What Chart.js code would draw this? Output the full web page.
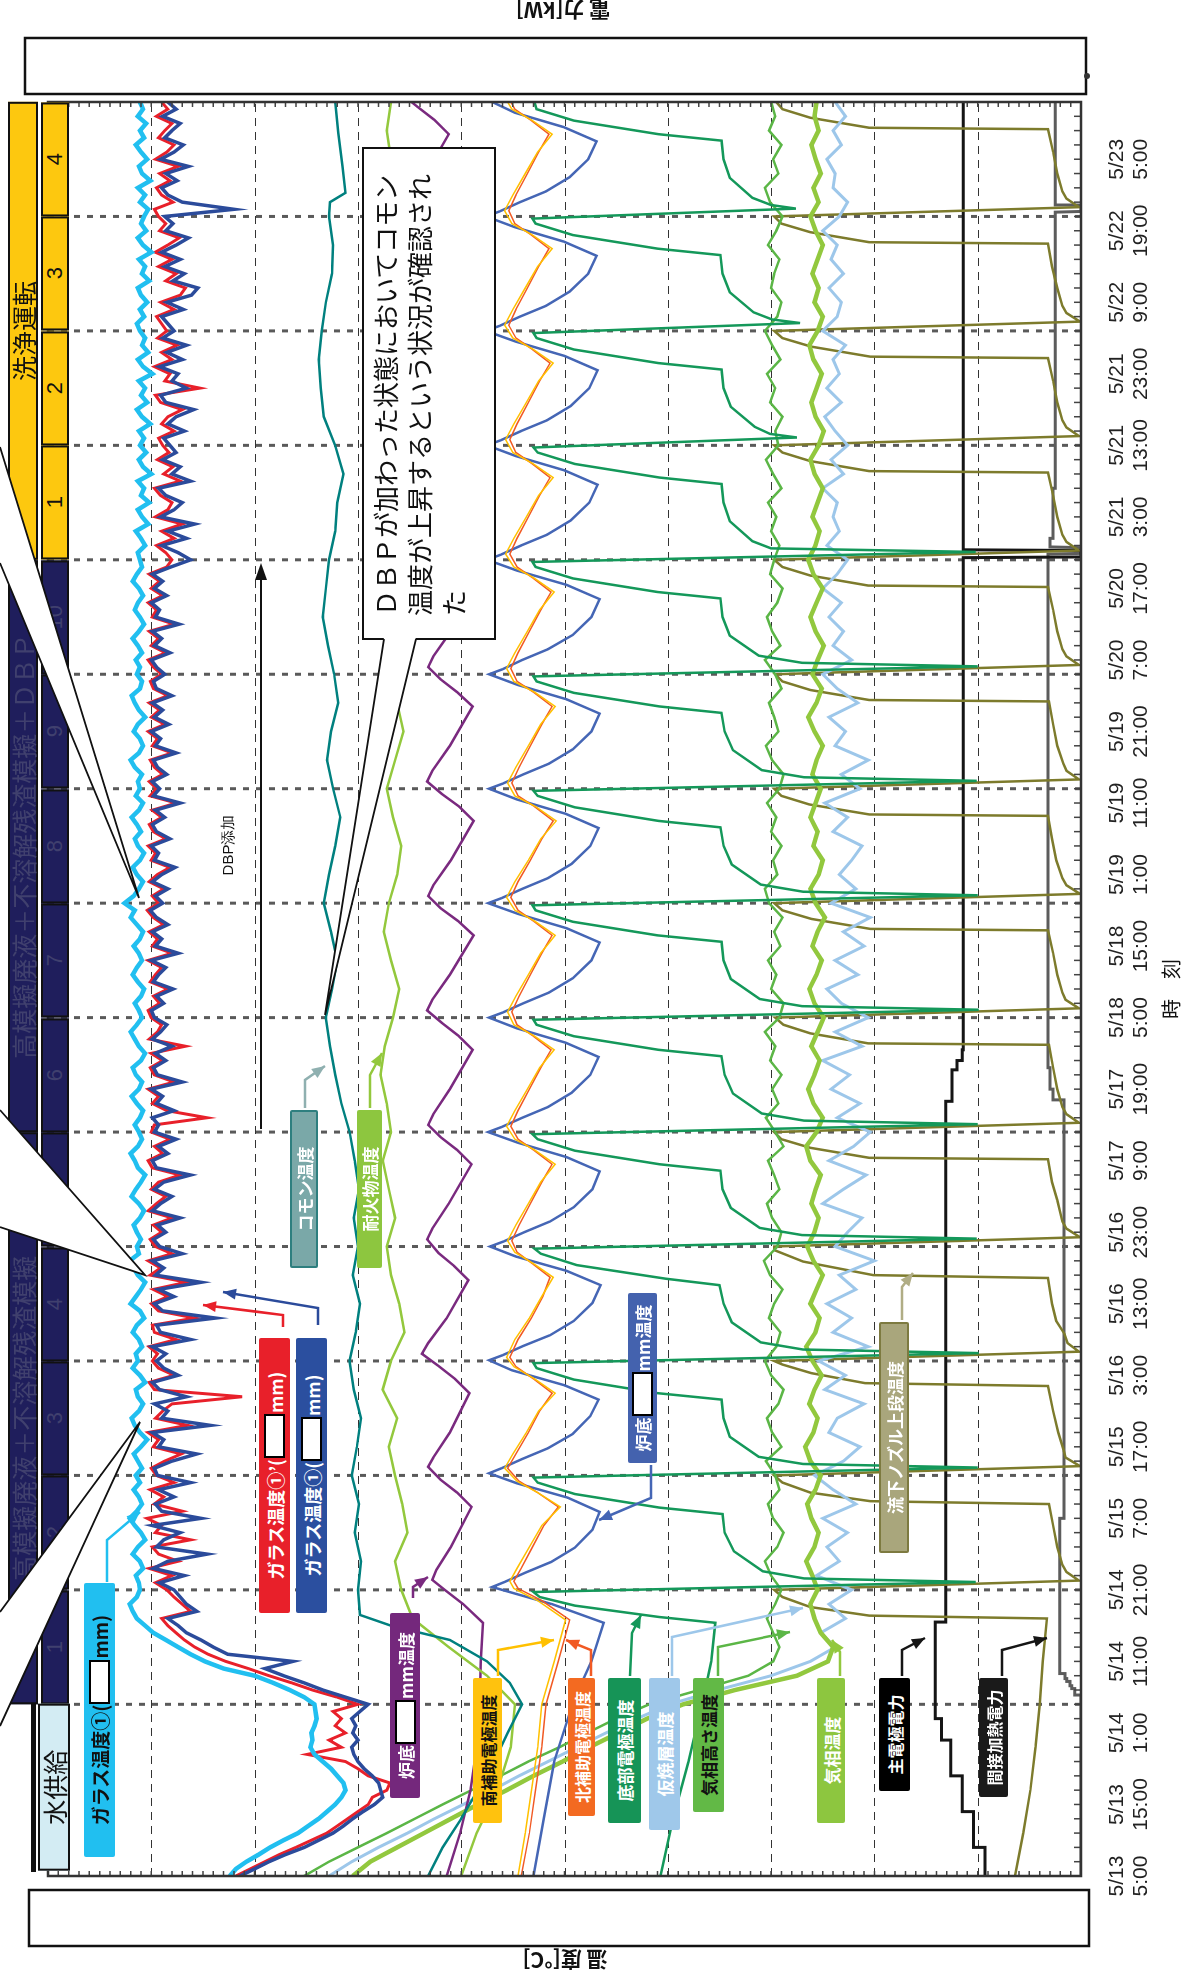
<!DOCTYPE html>
<html>
<head>
<meta charset="utf-8">
<script src="https://cdn.jsdelivr.net/npm/chart.js@4.4.1/dist/chart.umd.min.js"></script>
<style>
  body { margin:0; width:1187px; height:1977px; position:relative; overflow:hidden; background:#fff; }
  #rot { position:absolute; left:0; top:0; width:1977px; height:1187px; transform-origin:0 0; transform:translate(0px,1977px) rotate(-90deg); }
  #ov { position:absolute; left:0; top:0; z-index:2; }
  .layer { position:absolute; left:0; top:0; width:1187px; height:1977px; }
  .jp { font-family:'Noto Sans CJK JP', sans-serif; }
  .rb { display:inline-block; width:40px; height:17px; background:#fff; border:2px solid #000; vertical-align:middle; margin:0 1px; }
</style>
</head>
<body>
<div id="rot"><canvas id="c" width="1977" height="1187"></canvas></div>
<div id="bars" class="layer" style="z-index:1"></div>
<svg id="ov" width="1187" height="1977"></svg>
<div id="labels" class="layer" style="z-index:3"></div>
<script>
// time axis: hours from 5/13 5:00
const timeLabels = ['5/13 5:00','5/13 15:00','5/14 1:00','5/14 11:00','5/14 21:00','5/15 7:00','5/15 17:00',
  '5/16 3:00','5/16 13:00','5/16 23:00','5/17 9:00','5/17 19:00','5/18 5:00','5/18 15:00','5/19 1:00',
  '5/19 11:00','5/19 21:00','5/20 7:00','5/20 17:00','5/21 3:00','5/21 13:00','5/21 23:00','5/22 9:00',
  '5/22 19:00','5/23 5:00'];
const tempGrid = [100,200,300,400,500,600,700,800,900];
const phaseEdges = [0,24,40,56,72,88,104,120,136,152,168,184,200,216,232,248];
const phaseNums = ['1','2','3','4','5','6','7','8','9','10','1','2','3','4'];

// glass temperatures, one value per hour (t = 0..248)
const glassLB = [824,818,808,796,785,772,758,748,738,730,722,716,712,714,720,726,734,742,746,744,745,742,740,741,742,752,766,782,800,830,848,862,874,886,898,906,914,918,921,914,911,
912,915,908,911,918,913,906,910,916,921,914,909,912,917,911,915,
909,913,917,910,904,911,916,919,912,908,913,915,906,911,918,913,
915,909,912,918,914,907,911,920,915,910,906,913,917,921,912,914,
910,914,917,911,907,912,919,915,910,906,913,916,920,913,909,912,
916,911,908,914,919,912,909,915,918,910,906,912,916,920,914,909,
912,916,910,907,913,918,914,909,912,917,911,908,914,920,916,926,
917,912,908,914,918,911,907,913,916,910,914,919,912,908,915,911,
913,909,916,920,912,908,911,917,913,906,912,916,919,911,909,914,
911,915,909,913,918,912,907,911,916,913,908,912,918,914,909,911,
913,906,910,915,903,909,913,902,910,907,913,900,908,912,905,911,
907,912,901,909,914,904,910,906,912,899,908,913,903,909,906,911,
914,907,911,904,910,913,902,909,906,912,900,908,913,905,910,907,
903,911,906,913,901,909,912,904,910,915,907,911,905,913,908,911];
const glassB = [814,800,786,770,752,738,724,714,705,695,684,676,678,680,686,694,700,704,706,700,705,702,706,698,690,712,734,752,772,790,763,826,840,852,866,874,884,856,866,872,878,
892,868,898,884,846,895,888,872,899,852,890,896,878,893,862,894,
897,880,856,893,888,899,843,890,884,897,866,892,899,874,888,895,
886,899,862,891,895,838,889,897,878,893,852,896,888,899,870,892,
898,886,894,872,899,891,880,897,888,862,895,899,884,893,876,897,
893,899,878,895,889,900,870,894,898,886,896,880,899,891,885,897,
900,888,895,879,898,893,886,900,874,896,890,899,884,895,901,889,
896,884,899,890,877,897,893,900,882,895,899,887,896,872,898,892,
899,885,894,898,876,896,891,900,883,897,889,899,880,895,898,887,
895,900,882,897,890,899,873,896,892,900,885,897,889,899,881,862,
874,890,866,884,858,891,878,870,886,893,862,880,872,889,876,882,
888,868,884,876,859,886,891,866,880,874,892,870,885,866,889,878,
884,890,869,885,861,855,879,868,887,872,890,876,864,886,879,887,
820,870,884,890,875,886,864,891,878,869,887,880,872,889,876,884];
const glassR = [818,804,790,776,760,745,730,720,710,700,690,686,672,669,690,700,712,749,716,728,712,722,716,724,700,720,744,764,786,806,828,845,858,868,876,884,890,862,870,878,885,
896,880,902,874,893,899,862,896,890,904,870,897,888,901,878,895,
900,887,871,898,893,903,865,896,889,880,812,897,902,878,893,899,
894,902,876,897,899,858,893,900,884,898,866,901,891,903,880,896,
901,890,898,880,903,895,886,900,893,872,899,903,889,897,882,900,
897,846,885,899,893,903,878,897,901,889,900,867,902,894,890,900,
903,892,898,884,901,896,890,903,880,899,894,902,888,898,904,893,
899,888,902,894,882,900,896,903,886,898,902,890,899,876,901,895,
902,889,897,901,880,899,894,903,887,900,892,902,884,898,901,890,
898,903,886,900,893,902,878,899,895,903,889,900,892,902,885,880,
886,895,878,890,870,896,884,880,891,897,872,888,879,894,883,889,
893,878,890,884,870,891,896,853,887,882,897,880,890,875,894,885,
890,895,878,891,872,867,886,876,893,880,896,884,873,892,886,893,
897,879,890,895,882,892,874,896,885,878,893,887,880,895,884,890];

// gas-phase temperatures, one value per 2 h (t = 0..248)
const kisouTakasa = [752,728,700,672,645,618,590,562, 535,505,478,450,418,370,322,298,
292,298,304,296,290,300,306,294, 288,298,303,292,296,305,290,299, 304,293,288,300,306,295,291,302,
297,289,301,307,294,290,299,304, 292,297,303,288,296,305,293,299, 290,301,296,306,292,288,300,295,
303,291,297,289,302,306,294,298, 290,300,295,304,292,288,299,305, 293,297,302,290,296,306,291,299,
304,294,289,301,297,292,300,295, 303,290,298,305,293,296,289,301, 296,304,291,299,306,294,290,300,
297,292,303,295,289,301,306,293, 298,290,302,296,300];
const kisou = [705,688,662,636,610,584,556,530, 502,476,448,420,385,335,275,245,
240,252,258,262,255,260,266,258, 254,261,265,257,252,262,267,259, 255,263,258,251,260,266,257,253,
262,256,250,259,265,258,254,261, 257,252,262,266,256,250,259,264, 258,253,261,255,249,258,263,256,
251,260,255,248,257,262,254,250, 259,255,262,257,252,260,256,250, 258,264,256,251,260,255,249,257,
262,256,250,259,264,257,253,260, 255,250,258,262,254,249,257,261, 256,251,259,263,255,250,258,254,
260,255,250,257,262,254,259,252, 257,261,254,258,256];
const kasyo = [728,706,680,652,626,598,570,544, 516,488,460,430,398,352,300,262,
238,252,228,244,222,256,234,246, 226,250,218,240,258,230,214,244, 236,210,248,228,254,206,240,222,
246,218,234,200,238,226,212,250, 230,208,244,220,204,236,214,242, 224,250,212,238,206,232,246,216,
238,210,230,204,242,218,234,222, 212,240,226,248,214,232,206,238, 228,244,216,236,250,222,240,230,
244,232,250,236,226,246,234,240, 236,250,230,242,226,238,248,232, 246,234,240,228,250,236,232,244,
230,242,236,250,234,226,240,238, 246,232,240,228,238];

// [hour, value] series
const common = [[0,632],[4,618],[8,600],[12,584],[16,568],[20,555],[24,541],[27,553],[30,575],[33,611],[35,668],[36.5,698],[40,700],[44,697],[48,703],[52,699],[56,706],[60,701],[64,697],[68,704],[72,708],[76,702],[80,698],[84,705],[88,700],[92,704],[96,699],[100,703],[104,708],[108,716],[112,722],[116,727],[120,731],[124,725],[128,720],[132,726],[136,733],[140,728],[144,722],[148,717],[152,724],[156,730],[160,726],[164,719],[168,723],[172,729],[176,734],[180,731],[184,728],[188,722],[192,720],[196,714],[200,722],[204,733],[208,736],[212,738],[216,735],[220,731],[224,725],[228,724],[232,728],[234,727],[235.3,712],[239,715],[243.7,719],[248,722]];
const refractory = [[0,600],[6,585],[12,565],[18,552],[24,548],[28,575],[32,612],[36,647],[40,658],[44,664],[48,652],[52,657],[56,664],[60,670],[64,662],[68,676],[72,668],[76,655],[80,660],[84,668],[88,672],[92,664],[96,670],[100,676],[104,668],[108,672],[112,678],[116,674],[120,666],[124,660],[128,668],[132,675],[136,670],[140,662],[144,658],[148,666],[152,672],[156,664],[160,656],[164,662],[168,670],[172,664],[176,658],[180,652],[184,660],[188,655],[192,662],[196,668],[200,660],[204,654],[208,662],[212,670],[216,664],[220,658],[224,665],[228,672],[232,666],[236,660],[240,668],[244,672],[248,668]];
const bottomPurple = [[0,614],[6,601],[12,591],[18,585],[24,582],[30,581],[35.4,579],[38,598],[40,616],
[41.4,628],[42.8,624],[46,610],[51.6,590],[53.6,604],[55.4,620],
[57.2,632],[58.5,627],[62,611],[67.5,592],[69.5,606],[71.3,622],
[73,638],[74.5,632],[78,614],[83.3,593],[85.3,607],[87.1,622],
[89,633],[90.5,628],[94,612],[99.5,590],[101.5,604],[103.3,620],
[105,632],[106.5,627],[110,611],[115.5,589],[117.5,603],[119.3,619],
[121,633],[122.5,628],[126,611],[131.5,588],[133.5,603],[135.3,620],
[137,632],[138.5,627],[142,610],[147.5,588],[149.5,602],[151.3,619],
[153,633],[154.5,628],[158,611],[163.5,589],[165.5,604],[167.3,620],
[169,632],[170.5,627],[174,610],[179.5,588],[181.5,603],[183.3,620],
[185,640],[186.5,636],[190,622],[195.5,600],[197.5,614],[199.3,630],
[201,645],[202.5,640],[206,626],[211.5,604],[213.5,618],[215.3,634],
[217,650],[218.5,645],[222,630],[227.5,608],[229.5,622],[231.3,638],
[233,655],[234.5,650],[238,634],[243.5,612],[245.5,626],[247.3,642],[248,648]];
const southAux = [[0,545],[6,538],[12,532],[18,526],[24,522],[30,510],[35.8,499],[38.5,526],[40.2,549],
[41.2,553],[43,546],[46,534],[49,522],[51.6,504],[53.6,526],[55.2,546],
[57,558],[59,550],[62,537],[65,525],[67.5,509],[69.5,529],[71.2,549],
[72.5,556],[75,548],[78,534],[81,522],[83.7,511],[85.6,530],[87.2,548],
[88.8,555],[91,547],[94,535],[97,523],[99.5,509],[101.5,529],[103,548],
[104.8,556],[107,548],[110,536],[113,524],[115.5,510],[117.5,530],[119,549],
[120.8,555],[123,547],[126,535],[129,523],[131.5,509],[133.5,529],[135,548],
[136.8,556],[139,548],[142,535],[145,523],[147.5,508],[149.5,528],[151,548],
[152.8,555],[155,547],[158,535],[161,523],[163.5,509],[165.5,529],[167,549],
[168.8,556],[171,548],[174,536],[177,524],[179.5,510],[181.5,530],[183,549],
[184.8,557],[187,549],[190,537],[193,525],[195.5,511],[197.5,531],[199,550],
[200.8,557],[203,549],[206,537],[209,525],[211.5,511],[213.5,531],[215,550],
[216.8,558],[219,550],[222,538],[225,526],[227.5,512],[229.5,532],[231,551],
[232.8,558],[235,550],[238,538],[241,526],[243.5,512],[245.5,532],[247,551],[248,555]];
const northAux = [[0,542],[6,534],[12,528],[18,522],[24,518],[30,506],[35.8,495],[38.5,522],[40.2,545],
[41.2,549],[43,542],[46,531],[49,520],[51.6,506],[53.6,526],[55.2,544],
[57,555],[59,547],[62,535],[65,524],[67.5,512],[69.5,530],[71.2,547],
[72.5,553],[75,545],[78,532],[81,521],[83.7,514],[85.6,531],[87.2,546],
[88.8,551],[91,544],[94,533],[97,522],[99.5,512],[101.5,530],[103,545],
[104.8,552],[107,545],[110,534],[113,523],[115.5,513],[117.5,531],[119,546],
[120.8,551],[123,544],[126,533],[129,522],[131.5,512],[133.5,530],[135,545],
[136.8,552],[139,545],[142,533],[145,522],[147.5,511],[149.5,529],[151,545],
[152.8,551],[155,544],[158,533],[161,522],[163.5,512],[165.5,530],[167,546],
[168.8,552],[171,545],[174,534],[177,523],[179.5,513],[181.5,531],[183,546],
[184.8,553],[187,546],[190,535],[193,524],[195.5,514],[197.5,532],[199,547],
[200.8,553],[203,546],[206,535],[209,524],[211.5,514],[213.5,532],[215,547],
[216.8,554],[219,547],[222,536],[225,525],[227.5,515],[229.5,533],[231,548],
[232.8,554],[235,547],[238,536],[241,525],[243.5,515],[245.5,533],[247,548],[248,552]];
const bottomBlue = [[0,530],[8,520],[16,510],[24.6,491],[30,474],[35.4,462],[38,512],
[40.4,570],[41.1,558],[42.4,538],[43.9,513],[45.9,490],[48.4,473],[50.9,466],[52.9,497],[54.9,546],
[56.3,573],[57,561],[58.3,541],[59.8,516],[61.8,492],[64.3,475],[66.6,467],[68.6,500],[70.7,551],
[72.1,573],[72.8,560],[74.1,540],[75.6,514],[77.6,491],[80.1,473],[82.6,465],[84.6,498],[86.6,547],
[88,572],[88.7,559],[90,539],[91.5,514],[93.5,491],[96,473],[98.5,466],[100.5,498],[102.5,545],
[104,574],[104.7,561],[106,541],[107.5,516],[109.5,493],[112,475],[114.5,467],[116.5,499],[118.5,546],
[120,573],[120.7,560],[122,540],[123.5,515],[125.5,492],[128,474],[130.5,466],[132.5,498],[134.5,545],
[136,574],[136.7,561],[138,541],[139.5,516],[141.5,493],[144,475],[146.5,467],[148.5,499],[150.5,546],
[152,573],[152.7,560],[154,540],[155.5,515],[157.5,492],[160,474],[162.5,466],[164.5,498],[166.5,545],
[168,573],[168.7,560],[170,541],[171.5,516],[173.5,492],[176,474],[178.5,466],[180.5,498],[182.5,546],
[184,575],[184.7,562],[186,542],[187.5,517],[189.5,494],[192,476],[194.5,468],[196.5,500],[198.5,547],
[200,575],[200.7,562],[202,542],[203.5,517],[205.5,494],[208,476],[210.5,468],[212.5,500],[214.5,547],
[216,576],[216.7,563],[218,543],[219.5,518],[221.5,495],[224,477],[226.5,469],[228.5,501],[230.5,548],
[232,576],[232.7,563],[234,543],[235.5,518],[237.5,495],[240,477],[242.5,469],[244.5,501],[246.5,548],[248,570]];
const bottomElectrode = [[0,407],[8,395],[16,380],[24.6,366],[30,358],[35.4,354],[36.2,408],[37.8,490],[39,524],
[39.7,530],[41.1,102],[41.6,268],[42.6,308],[45.4,336],[48,345],[50.6,347],[51.5,408],[53.4,490],[55,526],
[55.7,530],[57.1,100],[57.6,269],[58.6,312],[61.4,340],[64,346],[66.6,348],[67.5,410],[69.4,491],[71,527],
[71.7,530],[73.1,99],[73.6,269],[74.6,310],[77.4,338],[80,346],[82.6,350],[83.5,402],[85.4,488],[87,523],
[87.7,529],[89.1,101],[89.6,270],[90.6,311],[93.4,339],[96,347],[98.6,349],[99.5,408],[101.4,490],[103,526],
[103.7,531],[105.1,100],[105.6,268],[106.6,309],[109.4,337],[112,345],[114.6,348],[115.5,409],[117.4,491],[119,527],
[119.7,530],[121.1,99],[121.6,270],[122.6,311],[125.4,339],[128,346],[130.6,348],[131.5,410],[133.4,492],[135,528],
[135.7,531],[137.1,100],[137.6,269],[138.6,310],[141.4,338],[144,346],[146.6,349],[147.5,409],[149.4,490],[151,526],
[151.7,530],[153.1,101],[153.6,268],[154.6,309],[157.4,337],[160,345],[162.6,348],[163.5,408],[165.4,491],[167,527],
[167.7,530],[169.1,100],[169.6,270],[170.6,312],[173.4,340],[176,347],[178.6,349],[179.5,410],[181.4,492],[183,528],
[183.7,531],[185.1,102],[185.6,300],[186.6,318],[189.4,340],[192,346],[194.6,348],[195.5,408],[197.4,490],[199,526],
[199.7,530],[201.1,275],[201.6,301],[202.6,316],[205.4,339],[208,346],[210.6,348],[211.5,409],[213.4,491],[215,527],
[215.7,530],[217.1,272],[217.6,299],[218.6,317],[221.4,340],[224,347],[226.6,349],[227.5,410],[229.4,492],[231,528],
[231.7,531],[233.1,276],[233.6,300],[234.6,318],[237.4,340],[240,346],[242.6,348],[243.5,409],[245.4,491],[247,527],[248,529]];
const nozzle = [[0,64],[6,56],[12,49],[18,44],[24,40],[30,37],[36,33],[36.4,205],[37.6,262],[39,289],[40,297],
[41.3,2],[42.5,14],[43.5,18],[46,23],[49,27],[52,31],[52.4,204],[53.6,262],[55,289],[56,297],
[57.3,1],[58.5,15],[59.6,17],[62,22],[65,27],[68.5,32],[68.9,209],[70.3,261],[71.5,289],[72,297],
[73.3,2],[74.5,13],[75.8,16],[77.6,24],[80,28],[83.6,32],[84,201],[85.9,269],[87.5,297],[88,297],
[89.3,1],[90.5,14],[91.5,18],[94.5,23],[97,28],[100.2,32],[100.4,205],[101.8,262],[103,290],[104,297],
[105.3,2],[106.5,14],[107.5,18],[110,23],[113,27],[116.2,31],[116.4,206],[117.8,262],[119,288],[120,296],
[121.3,2],[122.5,15],[123.5,18],[126,23],[129,27],[132.2,32],[132.4,204],[133.8,261],[135,289],[136,297],
[137.3,1],[138.5,14],[139.5,18],[142,24],[145,28],[148.2,32],[148.4,205],[149.8,263],[151,290],[152,297],
[153.3,2],[154.5,14],[155.5,17],[158,23],[161,27],[164.2,31],[164.4,205],[165.8,262],[167,289],[168,296],
[169.3,2],[170.5,14],[171.5,18],[174,23],[177,27],[180.2,32],[180.4,206],[181.8,262],[183,289],[184,297],
[185.3,2],[186.5,14],[187.5,18],[190,23],[193,27],[196.2,32],[196.4,205],[197.8,262],[199,289],[200,297],
[201.3,2],[202.5,14],[203.5,18],[206,23],[209,27],[212.2,32],[212.4,204],[213.8,261],[215,289],[216,297],
[217.3,1],[218.5,14],[219.5,18],[222,23],[225,28],[228.2,32],[228.4,205],[229.8,262],[231,290],[232,297],
[233.3,2],[234.5,14],[235.5,18],[238,23],[241,27],[244.2,32],[244.4,205],[245.8,262],[247,289],[248,295]];
// electric power, right axis (labels hidden in the source)
const mainPower = [[0,9.3],[4,9.3],[4,10.4],[9,10.4],[9,11.5],[14,11.5],[14,12.6],[19,12.6],[19,13.5],[22,13.5],[22,14.1],[35.5,14.1],[35.5,13.1],[108.3,13.1],[108.3,12.5],[112.7,12.5],[112.7,12.0],[114,12.0],[114,11.5],[115.5,11.5],[115.5,11.4],[184.3,11.4],[184.4,0],[185.3,0],[185.4,11.4],[248,11.4]];
const indirectPower = [[0,0],[25.3,0],[25.3,0.6],[26.2,0.6],[26.2,0.9],[26.6,0.9],[26.6,1.06],[27.2,1.06],[27.2,1.38],[27.6,1.38],[27.6,1.55],[28.3,1.55],[28.3,2.05],[50,2.05],[50,1.65],[108.5,1.65],[108.5,2.7],[110,2.7],[110,3.0],[113,3.0],[113,3.2],[184.8,3.2],[184.9,0],[185.7,0],[185.8,3.0],[187,3.0],[187,2.7],[194,2.7],[194,2.5],[232.6,2.5],[232.7,0],[233.5,0],[233.6,2.5],[248,2.5]];

const perHour = a => a.map((v, i) => ({x: i, y: v}));
const per2h = a => a.map((v, i) => ({x: i * 2, y: v}));
const pairs = a => a.map(p => ({x: p[0], y: p[1]}));
const ds = (data, color, w, order, axis) => ({data, borderColor: color, borderWidth: w, pointRadius: 0, fill: false, tension: 0, order, yAxisID: axis || 'y'});

const decor = {
  id: 'decor',
  beforeDatasetsDraw(chart) {
    const {ctx, chartArea: a, scales: {x, y}} = chart;
    ctx.save();
    ctx.strokeStyle = '#333'; ctx.lineWidth = 1; ctx.setLineDash([8, 6]);
    tempGrid.forEach(T => {
      const p = Math.round(y.getPixelForValue(T)) + 0.5;
      ctx.beginPath(); ctx.moveTo(a.left, p); ctx.lineTo(a.right, p); ctx.stroke();
    });
    ctx.strokeStyle = '#5a5a5a'; ctx.lineWidth = 3; ctx.setLineDash([6, 7]);
    phaseEdges.slice(1, -1).forEach(t => {
      const p = x.getPixelForValue(t);
      ctx.beginPath(); ctx.moveTo(p, a.top); ctx.lineTo(p, a.bottom); ctx.stroke();
    });
    ctx.restore();
  },
  afterDatasetsDraw(chart) {
    const {ctx, chartArea: a, scales: {x, y, y2}} = chart;
    ctx.save();
    ctx.strokeStyle = '#444'; ctx.lineWidth = 1.5;
    ctx.beginPath();
    for (let t = 0; t <= 248; t += 2) { const p = x.getPixelForValue(t); ctx.moveTo(p, a.bottom); ctx.lineTo(p, a.bottom - 7); }
    for (let T = 0; T <= 1000; T += 10) { const p = y.getPixelForValue(T); ctx.moveTo(a.left, p); ctx.lineTo(a.left + 5, p); }
    for (let P = 0; P <= 100; P += 1) { const p = y2.getPixelForValue(P); ctx.moveTo(a.right, p); ctx.lineTo(a.right - 5, p); }
    ctx.stroke();
    ctx.strokeStyle = '#333'; ctx.lineWidth = 2.5;
    ctx.strokeRect(a.left, a.top, a.right - a.left, a.bottom - a.top);
    ctx.restore();
  }
};

const chart = new Chart(document.getElementById('c'), {
  type: 'line',
  data: {
    datasets: [
      ds(pairs(indirectPower), '#5c5c5c', 3, 20, 'y2'),
      ds(pairs(mainPower), '#151515', 3, 19, 'y2'),
      ds(pairs(nozzle), '#7d7b2c', 2.5, 18),
      ds(per2h(kasyo), '#9dc7ea', 3, 17),
      ds(per2h(kisou), '#92c83e', 4.5, 16),
      ds(per2h(kisouTakasa), '#5bb646', 2.5, 15),
      ds(pairs(bottomElectrode), '#14985a', 2.5, 14),
      ds(pairs(bottomBlue), '#4566b5', 2.5, 13),
      ds(pairs(northAux), '#f15a24', 1.5, 12),
      ds(pairs(southAux), '#ffc000', 1.5, 11),
      ds(pairs(bottomPurple), '#7a2a7f', 2.5, 10),
      ds(pairs(refractory), '#93c83d', 2.5, 9),
      ds(pairs(common), '#00807f', 2.5, 8),
      ds(perHour(glassR), '#e8202a', 3, 7),
      ds(perHour(glassLB), '#21bff0', 4.5, 6),
      ds(perHour(glassB), '#2b4b9b', 3.5, 5)
    ]
  },
  options: {
    responsive: false, animation: false, devicePixelRatio: 1,
    layout: {padding: {top: 48, left: 0, right: 0, bottom: 0}},
    plugins: {legend: {display: false}, tooltip: {enabled: false}},
    scales: {
      x: {type: 'linear', min: 0, max: 248, position: 'bottom',
        grid: {display: false}, border: {display: false},
        ticks: {stepSize: 10, autoSkip: false, maxRotation: 0, minRotation: 0, includeBounds: false, padding: 16,
          color: '#222', font: {size: 21, family: "'Liberation Sans', Arial, sans-serif", lineHeight: 1.15},
          callback: v => (v % 10 === 0 && timeLabels[v / 10]) ? timeLabels[v / 10].split(' ') : ''},
        afterFit(s) { s.height = 106; }},
      y: {min: 0, max: 1000, position: 'left', grid: {display: false}, border: {display: false},
        ticks: {display: false}, afterFit(s) { s.width = 101; }},
      y2: {min: 0, max: 100, position: 'right', grid: {display: false}, border: {display: false},
        ticks: {display: false}, afterFit(s) { s.width = 102; }}
    }
  },
  plugins: [decor]
});

// ---- overlays, in page coordinates ----
const X = chart.scales.x;
const sy = t => 1977 - X.getPixelForValue(t);
const bars = document.getElementById('bars');
const labels = document.getElementById('labels');
const svg = document.getElementById('ov');
const NS = 'http://www.w3.org/2000/svg';

function vbox(layer, x1, y1, x2, y2, html, css) {
  const W = x2 - x1, H = y2 - y1;
  const o = document.createElement('div');
  o.style.cssText = `position:absolute;left:${x1}px;top:${y1}px;width:${W}px;height:${H}px;`;
  const i = document.createElement('div');
  i.className = 'jp';
  i.style.cssText = `position:absolute;left:0;top:0;width:${H}px;height:${W}px;transform-origin:0 0;transform:translate(0px,${H}px) rotate(-90deg);display:flex;align-items:center;justify-content:center;box-sizing:border-box;white-space:nowrap;` + (css || '');
  i.innerHTML = html;
  o.appendChild(i); layer.appendChild(o);
  return i;
}
function el(tag, attrs) {
  const e = document.createElementNS(NS, tag);
  for (const k in attrs) e.setAttribute(k, attrs[k]);
  svg.appendChild(e); return e;
}
function arrow(pts, color, w) {
  el('polyline', {points: pts.map(p => p.join(',')).join(' '), fill: 'none', stroke: color, 'stroke-width': w || 2.5});
  const [x1, y1] = pts[pts.length - 2], [x2, y2] = pts[pts.length - 1];
  const L = Math.hypot(x2 - x1, y2 - y1), ux = (x2 - x1) / L, uy = (y2 - y1) / L;
  const hl = 13, hw = 5.5;
  const bx = x2 - ux * hl, by = y2 - uy * hl;
  el('polygon', {points: `${x2},${y2} ${bx - uy * hw},${by + ux * hw} ${bx + uy * hw},${by - ux * hw}`, fill: color});
}

// phase bars
const navyBg = '#1f1e5c', navyText = '#40406e';
vbox(bars, 8, sy(248), 38, sy(184), '洗浄運転', 'background:#fdc80f;border:2px solid #111;font-size:25px;color:#111;');
vbox(bars, 8, sy(184), 38, sy(104), '高模擬廃液＋不溶解残渣模擬＋ＤＢＰ', `background:${navyBg};border:2px solid #111;font-size:25px;color:${navyText};`);
vbox(bars, 8, sy(104), 38, sy(24), '高模擬廃液＋不溶解残渣模擬', `background:${navyBg};border:2px solid #111;font-size:25px;color:${navyText};`);
for (let k = 0; k < phaseNums.length; k++) {
  const cleaning = k >= 10;
  vbox(bars, 41, sy(phaseEdges[k + 2]), 69, sy(phaseEdges[k + 1]), phaseNums[k],
    `background:${cleaning ? '#fdc80f' : navyBg};border:2px solid #111;font-family:'Liberation Sans',Arial,sans-serif;font-size:22px;color:${cleaning ? '#111' : navyText};`);
}
vbox(bars, 38, sy(24), 70, sy(0) - 5, '水供給', 'background:#d3ecf3;border:2px solid #111;font-size:25px;color:#111;');
const blk = document.createElement('div');
blk.style.cssText = `position:absolute;left:31px;top:${sy(24)}px;width:5px;height:${sy(0) - 4 - sy(24)}px;background:#111;`;
bars.appendChild(blk);

// callout wedges from the left
function wedge(a, tip, b) {
  el('polygon', {points: `${a.join(',')} ${tip.join(',')} ${b.join(',')}`, fill: '#fff', stroke: 'none'});
  el('polyline', {points: `${a.join(',')} ${tip.join(',')} ${b.join(',')}`, fill: 'none', stroke: '#111', 'stroke-width': 1.8});
}
wedge([0, 447], [139, 898], [0, 563]);
wedge([0, 1110], [145, 1275], [0, 1227]);
wedge([0, 1612], [140, 1422], [0, 1726]);

// white boxes over the hidden tick labels
el('rect', {x: 25, y: 38, width: 1061, height: 56, fill: '#fff', stroke: '#111', 'stroke-width': 2.5});
el('circle', {cx: 1087, cy: 76, r: 3, fill: '#333'});
el('rect', {x: 29, y: 1890, width: 1060, height: 56, fill: '#fff', stroke: '#111', 'stroke-width': 2.5});

// DBP addition arrow
el('line', {x1: 261, y1: 1129, x2: 261, y2: 578, stroke: '#111', 'stroke-width': 2});
el('polygon', {points: '261,563 255,580 267,580', fill: '#111'});

// comment callout
el('rect', {x: 363, y: 148, width: 132, height: 491, fill: '#fff', stroke: '#111', 'stroke-width': 2});
el('polygon', {points: '384,637 325,1015 416,637', fill: '#fff', stroke: 'none'});
el('polyline', {points: '384,639 325,1015 416,639', fill: 'none', stroke: '#111', 'stroke-width': 1.8});

// label arrows
arrow([[107, 1582], [107, 1540], [140, 1512]], '#21bff0');
arrow([[283, 1327], [283, 1315], [203, 1305]], '#e8202a');
arrow([[318, 1325], [318, 1308], [223, 1292]], '#2b4b9b');
arrow([[413, 1598], [413, 1587], [428, 1577]], '#7a2a7f');
arrow([[305, 1108], [305, 1080], [325, 1066]], '#8fb0b0');
arrow([[370, 1108], [370, 1075], [382, 1053]], '#93c83d');
arrow([[498, 1676], [498, 1650], [554, 1640]], '#ffc000');
arrow([[591, 1676], [591, 1650], [566, 1640]], '#f15a24');
arrow([[630, 1676], [632, 1633], [641, 1615]], '#14985a');
arrow([[672, 1676], [672, 1637], [803, 1608]], '#9dc7ea');
arrow([[718, 1676], [718, 1647], [790, 1632]], '#5bb646');
arrow([[840, 1676], [840, 1652], [832, 1640]], '#92c83e');
arrow([[902, 1676], [902, 1650], [925, 1638]], '#151515');
arrow([[1002, 1676], [1002, 1650], [1047, 1638]], '#151515');
arrow([[651, 1465], [651, 1498], [599, 1520]], '#4566b5');
arrow([[902, 1320], [902, 1287], [913, 1273]], '#b0ad85');

// label boxes
const lb = (x1, y1, x2, y2, html, bg, fg, fs, extra) =>
  vbox(labels, x1, y1, x2, y2, html, `background:${bg};color:${fg};font-weight:700;font-size:${fs}px;border-radius:2px;` + (extra || ''));
const box = '<span class="rb"></span>';
lb(84, 1583, 115, 1857, `ガラス温度①(${box}mm)`, '#21bff0', '#111', 19);
lb(259, 1338, 290, 1613, `ガラス温度①’(${box}mm)`, '#e8202a', '#fff', 18);
lb(296, 1338, 327, 1613, `ガラス温度①(${box}mm)`, '#2b4f9f', '#fff', 18);
lb(390, 1613, 420, 1798, `炉底${box}mm温度`, '#74287c', '#fff', 17);
lb(290, 1110, 318, 1268, 'コモン温度', '#7aa8a8', '#fff', 17, 'border:2px solid #2e7f7f;');
lb(357, 1110, 382, 1268, '耐火物温度', '#8dc63f', '#fff', 17);
lb(473, 1678, 502, 1823, '南補助電極温度', '#ffc20e', '#111', 16);
lb(568, 1678, 595, 1816, '北補助電極温度', '#f36a21', '#fff', 16);
lb(608, 1678, 641, 1823, '底部電極温度', '#169457', '#fff', 17);
lb(649, 1678, 680, 1830, '仮焼層温度', '#9fc8ea', '#fff', 17);
lb(693, 1678, 724, 1812, '気相高さ温度', '#62b946', '#111', 17);
lb(817, 1678, 845, 1823, '気相温度', '#8dc63f', '#fff', 17);
lb(879, 1678, 910, 1791, '主電極電力', '#000', '#fff', 16);
lb(979, 1678, 1008, 1797, '間接加熱電力', '#1a1a1a', '#fff', 16);
lb(628, 1293, 657, 1463, `炉底${box}mm温度`, '#4462ae', '#fff', 17);
lb(879, 1322, 909, 1553, '流下ノズル上段温度', '#a9a67c', '#fff', 17, 'border:2px solid #7d7a40;');

// comment text and small texts
vbox(labels, 365, 150, 493, 637,
  'ＤＢＰが加わった状態においてコモン<br>温度が上昇するという状況が確認され<br>た',
  'display:block;font-size:26px;line-height:34px;color:#111;padding:3px 0 0 21px;text-align:left;');
vbox(labels, 219, 800, 237, 890, 'DBP添加', "font-family:'Liberation Sans',Arial,sans-serif;font-size:15px;color:#111;");
vbox(labels, 1158, 950, 1182, 1028, '時　刻', 'font-size:20px;color:#111;');

function flipText(x1, y1, x2, y2, txt) {
  const d = document.createElement('div');
  d.className = 'jp';
  d.style.cssText = `position:absolute;left:${x1}px;top:${y1}px;width:${x2 - x1}px;height:${y2 - y1}px;display:flex;align-items:center;justify-content:center;transform:rotate(180deg);font-size:21px;font-weight:700;color:#111;white-space:nowrap;`;
  d.textContent = txt;
  labels.appendChild(d);
}
flipText(500, 1947, 630, 1975, '温 度[°C]');
flipText(498, 0, 628, 22, '電 力[kW]');
</script>
</body>
</html>
